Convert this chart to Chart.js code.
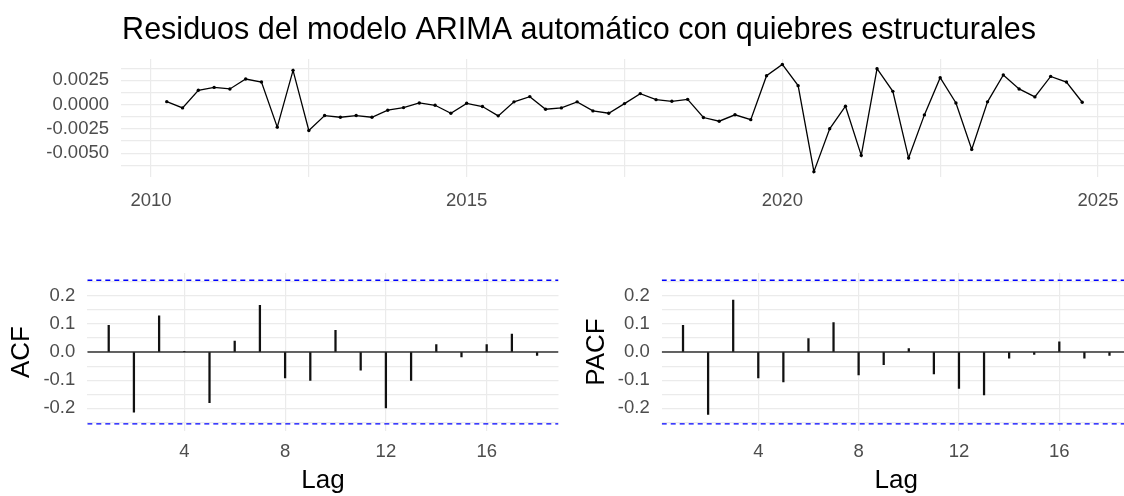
<!DOCTYPE html>
<html lang="es">
<head>
<meta charset="UTF-8">
<title>Residuos ARIMA</title>
<script src="https://cdn.jsdelivr.net/npm/chart.js"></script>
<style>
  html, body { margin: 0; padding: 0; background: #fff; overflow: hidden; width: 1124px; height: 496px; }
  canvas { position: absolute; }
  #serie { left: 26px; top: 0; }
  #acf { left: 0; top: 250px; }
  #pacf { left: 575px; top: 250px; }
</style>
</head>
<body>
<canvas id="serie" width="1106" height="215"></canvas>
<canvas id="acf" width="560" height="246"></canvas>
<canvas id="pacf" width="557" height="246"></canvas>

<script>
// serie trimestral de residuos, desde 2010 T2
const inicioAnio = 2010;
const inicioTrimestre = 2;
const residuos = [
  0.0003, -0.00034, 0.00147, 0.00177, 0.00161, 0.00263, 0.00232, -0.00232, 0.00352, -0.00267,
  -0.00113, -0.0013, -0.00113, -0.0013, -0.00058, -0.00031, 0.00017, -0.00007, -0.00089, 0.00013,
  -0.0002, -0.00116, 0.00028, 0.00082, -0.00048, -0.00034, 0.00028, -0.00065, -0.00089, 0.0001,
  0.00113, 0.00051, 0.00034, 0.00054, -0.00133, -0.00171, -0.00105, -0.00155, 0.00297, 0.00413,
  0.00195, -0.0069, -0.00249, -0.00017, -0.00523, 0.00369, 0.00136, -0.0055, -0.00106, 0.00277,
  0.00017, -0.00461, 0.00028, 0.00304, 0.00161, 0.00079, 0.0029, 0.00232, 0.00024
];

const lags = [1, 2, 3, 4, 5, 6, 7, 8, 9, 10, 11, 12, 13, 14, 15, 16, 17, 18];
const valoresACF = [0.095, -0.214, 0.129, 0.002, -0.180, 0.039, 0.166, -0.092, -0.101,
                    0.077, -0.064, -0.199, -0.101, 0.027, -0.017, 0.027, 0.064, -0.012];
const valoresPACF = [0.095, -0.222, 0.185, -0.092, -0.106, 0.048, 0.105, -0.081, -0.045,
                     0.012, -0.078, -0.129, -0.152, -0.022, -0.008, 0.036, -0.022, -0.012];
const limiteConf = 0.2552;

// ticks
const serieXGrid = [2010, 2012.5, 2015, 2017.5, 2020, 2022.5, 2025];
const serieXLabels = [2010, 2015, 2020, 2025];
const serieYGrid = [-0.00625, -0.005, -0.00375, -0.0025, -0.00125, 0, 0.00125, 0.0025, 0.00375];
const serieYLabels = [-0.005, -0.0025, 0, 0.0025];
const lagGrid = [4, 8, 12, 16];
const corrGrid = [-0.25, -0.2, -0.15, -0.1, -0.05, 0, 0.05, 0.1, 0.15, 0.2, 0.25];
const corrLabels = [-0.2, -0.1, 0, 0.1, 0.2];

Chart.defaults.font.family = "'Liberation Sans', Arial, sans-serif";
Chart.defaults.animation = false;

const gris = '#EBEBEB';
const textoTick = '#4D4D4D';

function tieneValor(lista, v) {
  return lista.some(x => Math.abs(x - v) < 1e-9);
}
function fijarTicks(lista) {
  return scale => { scale.ticks = lista.map(v => ({ value: v })); };
}

const fechas = residuos.map((_, i) => inicioAnio + (inicioTrimestre - 1) / 4 + i / 4);
const puntos = residuos.map((r, i) => ({ x: fechas[i], y: r }));

const xMinS = 2009.525, xMaxS = 2025.475;

new Chart(document.getElementById('serie'), {
  type: 'line',
  data: {
    datasets: [{
      data: puntos,
      borderColor: '#000',
      borderWidth: 1.3,
      pointRadius: 1.7,
      pointBackgroundColor: '#000',
      pointBorderWidth: 0,
      tension: 0
    }]
  },
  options: {
    responsive: false,
    layout: { padding: 0 },
    plugins: {
      legend: { display: false },
      tooltip: { enabled: false },
      title: {
        display: true,
        text: 'Residuos del modelo ARIMA automático con quiebres estructurales',
        color: '#000',
        font: { size: 30.5, weight: 'normal' },
        padding: { top: 12.5, bottom: 10 }
      }
    },
    scales: {
      x: {
        type: 'linear',
        min: xMinS,
        max: xMaxS,
        afterBuildTicks: fijarTicks(serieXGrid),
        afterFit: s => { s.height = 38; },
        grid: { color: gris, lineWidth: 1.2, drawTicks: false },
        border: { display: false },
        ticks: {
          autoSkip: false, maxRotation: 0, padding: 12.5, color: textoTick,
          font: { size: 18.5 },
          callback: v => tieneValor(serieXLabels, v) ? String(v) : ''
        }
      },
      y: {
        min: -0.00745,
        max: 0.00468,
        afterBuildTicks: fijarTicks(serieYGrid),
        afterFit: s => { s.width = 95; },
        grid: { color: gris, lineWidth: 1.2, drawTicks: false },
        border: { display: false },
        ticks: {
          autoSkip: false, padding: 12, color: textoTick,
          font: { size: 18.5 },
          callback: v => tieneValor(serieYLabels, v) ? v.toFixed(4) : ''
        }
      }
    }
  }
});

const xMinL = 0.15, xMaxL = 18.85;
const yLimC = 0.2807;

function graficoCorr(id, valores, etiqueta, padDerecha, anchoEje) {
  new Chart(document.getElementById(id), {
    type: 'bar',
    data: {
      datasets: [
        {
          type: 'line',
          data: [{ x: xMinL, y: limiteConf }, { x: xMaxL, y: limiteConf }],
          borderColor: '#0000FF', borderWidth: 1.3, borderDash: [5, 4],
          pointRadius: 0, order: 1
        },
        {
          type: 'line',
          data: [{ x: xMinL, y: -limiteConf }, { x: xMaxL, y: -limiteConf }],
          borderColor: '#0000FF', borderWidth: 1.3, borderDash: [5, 4],
          pointRadius: 0, order: 1
        },
        {
          type: 'line',
          data: [{ x: xMinL, y: 0 }, { x: xMaxL, y: 0 }],
          borderColor: '#333333', borderWidth: 1.6,
          pointRadius: 0, order: 2
        },
        {
          data: lags.map((l, i) => ({ x: l, y: valores[i] })),
          backgroundColor: '#111',
          barThickness: 1.6,
          order: 0
        }
      ]
    },
    options: {
      responsive: false,
      layout: { padding: { top: 18.3, right: padDerecha, left: 0, bottom: 0 } },
      plugins: {
        legend: { display: false },
        tooltip: { enabled: false }
      },
      scales: {
        x: {
          type: 'linear',
          min: xMinL,
          max: xMaxL,
          offset: false,
          afterBuildTicks: fijarTicks(lagGrid),
          afterFit: s => { s.height = 65; },
          grid: { color: gris, lineWidth: 1.2, drawTicks: false, offset: false },
          border: { display: false },
          ticks: { autoSkip: false, maxRotation: 0, padding: 10, color: textoTick, font: { size: 18.5 } },
          title: { display: true, text: 'Lag', color: '#000', font: { size: 26 }, padding: { top: 0, bottom: 0 } }
        },
        y: {
          min: -yLimC,
          max: yLimC,
          afterBuildTicks: fijarTicks(corrGrid),
          afterFit: s => { s.width = anchoEje; },
          grid: { color: gris, lineWidth: 1.2, drawTicks: false },
          border: { display: false },
          ticks: {
            autoSkip: false, padding: 12, color: textoTick, font: { size: 18.5 },
            callback: v => tieneValor(corrLabels, v) ? v.toFixed(1) : ''
          },
          title: { display: true, text: etiqueta, color: '#000', font: { size: 26 }, padding: { top: 6, bottom: 0 } }
        }
      }
    }
  });
}

graficoCorr('acf', valoresACF, 'ACF', 1.5, 87.3);
graficoCorr('pacf', valoresPACF, 'PACF', 1.2, 86.7);
</script>
</body>
</html>
